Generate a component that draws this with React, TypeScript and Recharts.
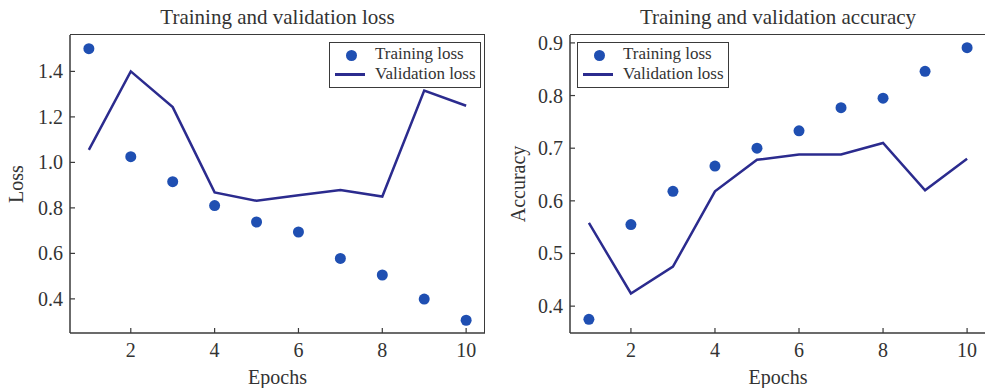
import {ComposedChart, Scatter, Line, XAxis, YAxis} from 'recharts'

const epochs = [1, 2, 3, 4, 5, 6, 7, 8, 9, 10]
const trainLoss = [1.5, 1.025, 0.915, 0.81, 0.738, 0.694, 0.578, 0.505, 0.399, 0.306]
const valLoss = [1.055, 1.4, 1.243, 0.868, 0.831, 0.856, 0.879, 0.85, 1.316, 1.249]
const trainAcc = [0.375, 0.555, 0.618, 0.666, 0.7, 0.733, 0.777, 0.795, 0.846, 0.891]
const valAcc = [0.558, 0.424, 0.475, 0.618, 0.678, 0.688, 0.688, 0.71, 0.62, 0.68]

const epochTicks = [2, 4, 6, 8, 10]
const lossTicks = [0.4, 0.6, 0.8, 1.0, 1.2, 1.4]
const accTicks = [0.4, 0.5, 0.6, 0.7, 0.8, 0.9]

const FONT = '"Liberation Serif", "Times New Roman", serif'
const DOT = '#1f4fb2'
const LINE = '#2b2b8e'
const FRAME = '#3a3a3a'
const X_DOMAIN: [number, number] = [0.55, 10.45]
const PLOT_TOP = 35
const X_AXIS_H = 55
const H = 388

const XTick = (props: any) => {
    const {x, y, payload} = props
    return (
        <g>
            <line x1={x} x2={x} y1={y} y2={y - 5} stroke={FRAME} strokeWidth={1.2} />
            <text x={x} y={y + 24} textAnchor="middle" fontFamily={FONT} fontSize={20} fill="#333">
                {payload.value}
            </text>
        </g>
    )
}

const YTick = (props: any) => {
    const {x, y, payload} = props
    return (
        <g>
            <line x1={x} x2={x + 5} y1={y} y2={y} stroke={FRAME} strokeWidth={1.2} />
            <text x={x - 7} y={y} dy="0.35em" textAnchor="end" fontFamily={FONT} fontSize={20} fill="#333">
                {Number(payload.value).toFixed(1)}
            </text>
        </g>
    )
}

const Dot = (props: any) => <circle cx={props.cx} cy={props.cy} r={5.5} fill={DOT} />

const Legend = ({left}: {left: number}) => (
    <div style={{
        position: 'absolute', left, top: 42, width: 150, height: 44,
        border: `1.5px solid ${FRAME}`, background: '#fff',
        fontFamily: FONT, fontSize: 17, color: '#333',
    }}>
        <div style={{position: 'absolute', left: 16, top: 7, width: 11, height: 11, borderRadius: 6, background: DOT}} />
        <div style={{position: 'absolute', left: 45, top: 1}}>Training loss</div>
        <div style={{position: 'absolute', left: 5, top: 30, width: 30, height: 2.5, background: LINE}} />
        <div style={{position: 'absolute', left: 45, top: 21}}>Validation loss</div>
    </div>
)

type PanelProps = {
    left: number
    width: number
    yWidth: number
    rightMargin: number
    title: string
    yLabel: string
    labelOffset: number
    train: number[]
    val: number[]
    yDomain: [number, number]
    yTicks: number[]
    legendLeft: number
}

const Panel = (p: PanelProps) => {
    const rows = epochs.map((e, i) => ({epoch: e, train: p.train[i], val: p.val[i]}))
    const plotLeft = p.yWidth
    const plotRight = p.width - p.rightMargin
    return (
        <div style={{position: 'absolute', left: p.left, top: 0, width: p.width, height: H}}>
            <div style={{
                position: 'absolute', top: 5, left: plotLeft, width: plotRight - plotLeft,
                textAlign: 'center', fontFamily: FONT, fontSize: 21, color: '#333',
            }}>{p.title}</div>
            <ComposedChart width={p.width} height={H} data={rows}
                margin={{top: PLOT_TOP, right: p.rightMargin, bottom: 0, left: 0}}>
                <XAxis dataKey="epoch" type="number" domain={X_DOMAIN} ticks={epochTicks}
                    allowDataOverflow height={X_AXIS_H} tickSize={0} tickMargin={0} tickLine={false}
                    tick={<XTick />} axisLine={{stroke: FRAME, strokeWidth: 1.5}}
                    label={{value: 'Epochs', position: 'insideBottom', offset: 4, fontFamily: FONT, fontSize: 20, fill: '#333'}} />
                <YAxis type="number" domain={p.yDomain} ticks={p.yTicks} allowDataOverflow width={p.yWidth}
                    tickSize={0} tickMargin={0} tickLine={false} tick={<YTick />}
                    axisLine={{stroke: FRAME, strokeWidth: 1.5}}
                    label={{value: p.yLabel, angle: -90, position: 'insideLeft', offset: p.labelOffset, fontFamily: FONT, fontSize: 20, fill: '#333', style: {textAnchor: 'middle'}}} />
                <Scatter dataKey="train" shape={<Dot />} isAnimationActive={false} />
                <Line dataKey="val" type="linear" stroke={LINE} strokeWidth={2.5} dot={false}
                    activeDot={false} isAnimationActive={false} />
            </ComposedChart>
            {/* top and right edges of the axes box */}
            <div style={{
                position: 'absolute', left: plotLeft, top: PLOT_TOP - 0.75,
                width: plotRight - plotLeft - 0.75, height: H - X_AXIS_H - PLOT_TOP,
                borderTop: `1.5px solid ${FRAME}`, borderRight: `1.5px solid ${FRAME}`,
                pointerEvents: 'none',
            }} />
            <Legend left={p.legendLeft} />
        </div>
    )
}

const App = () => (
    <div style={{position: 'absolute', left: 0, top: 0, width: 985, height: H, background: '#fff', overflow: 'hidden'}}>
        <Panel left={0} width={490} yWidth={70} rightMargin={5} title="Training and validation loss"
            yLabel="Loss" labelOffset={16} train={trainLoss} val={valLoss} yDomain={[0.25, 1.56]} yTicks={lossTicks}
            legendLeft={329} />
        <Panel left={490} width={496} yWidth={80} rightMargin={0} title="Training and validation accuracy"
            yLabel="Accuracy" labelOffset={28} train={trainAcc} val={valAcc} yDomain={[0.349, 0.915]} yTicks={accTicks}
            legendLeft={87} />
    </div>
)

export default App
